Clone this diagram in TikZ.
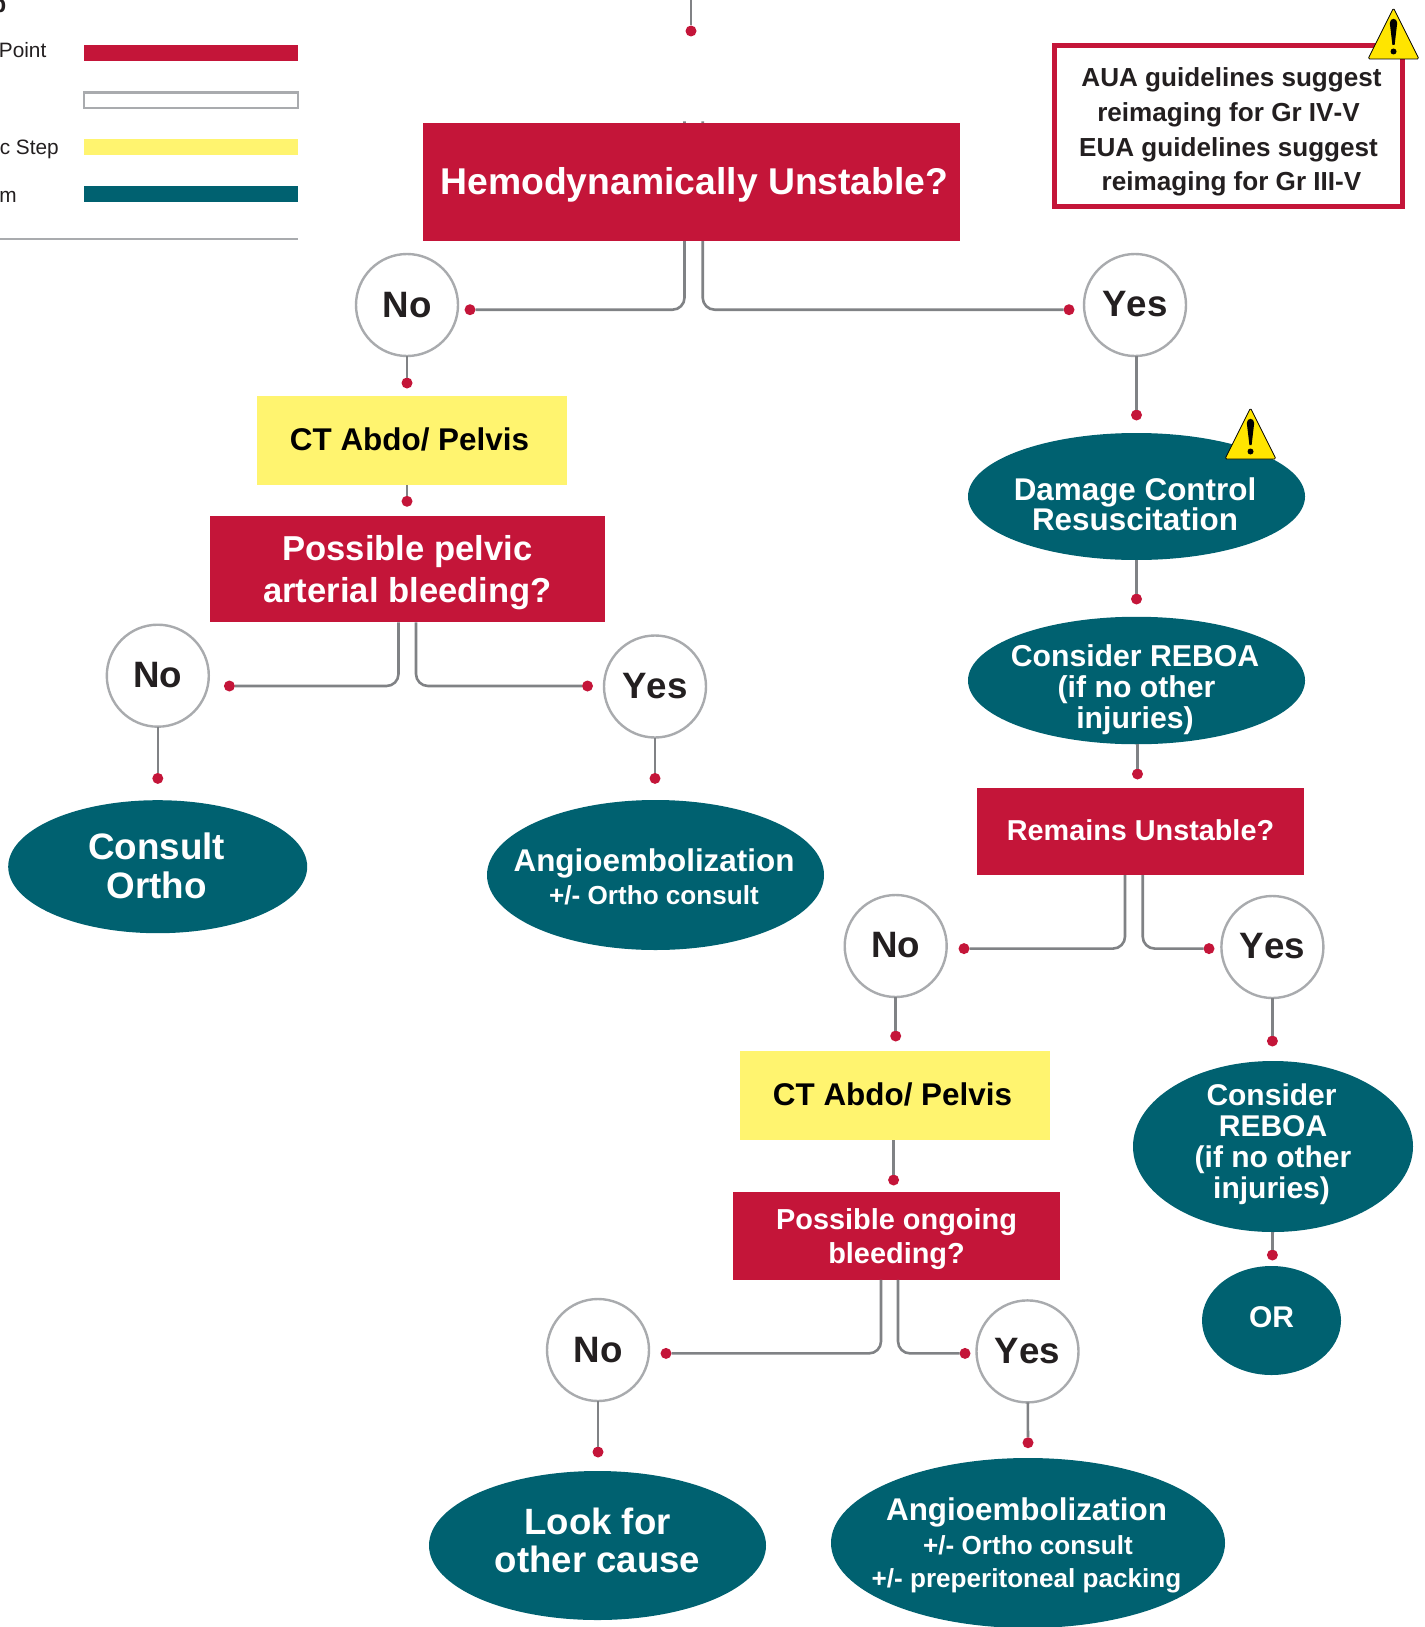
\documentclass[tikz,border=0pt]{standalone}
\usepackage{fontspec}
\setmainfont[Kerning=Off]{Liberation Sans}
\usetikzlibrary{shapes.geometric}
\definecolor{cred}{HTML}{C41539}
\definecolor{cteal}{HTML}{006170}
\definecolor{cyel}{HTML}{FFF46F}
\definecolor{cgrey}{HTML}{808285}
\definecolor{cring}{HTML}{A9ABAE}
\definecolor{cink}{HTML}{231F20}
\definecolor{cwarn}{HTML}{FFE500}
\newcommand{\fs}[2]{\fontsize{#1}{#2}\selectfont\bfseries}
% move a node's text down / up inside its shape by half of the given length
\newcommand{\pushdown}[2]{\setbox0\hbox{#2}\rule{0pt}{\dimexpr\ht0+#1\relax}#2}
\newcommand{\pushup}[2]{\setbox0\hbox{#2}\rule[-\dimexpr\dp0+#1\relax]{0pt}{0pt}#2}
\newcommand{\warnsign}[2]{%
  \begin{scope}[shift={(#1,#2)}]
    \draw[fill=cwarn,draw=black,line width=0.8pt,line join=round,rounded corners=1.5pt] (0,51) -- (25.5,0) -- (51,51) -- cycle;
    \fill[black] (21.8,15) .. controls (21.8,9.5) and (29.2,9.5) .. (29.2,15) -- (26.6,37) -- (24.4,37) -- cycle;
    \fill[black] (25.5,43.5) circle (3pt);
  \end{scope}}
\tikzset{
  x=1pt,y=-1pt,
  conn/.style={draw=cgrey,line width=2.6pt},
  elbow/.style={conn,rounded corners=12pt},
  dotn/.style={circle,fill=cred,draw=none,minimum size=11pt,inner sep=0,outer sep=0},
  redbox/.style={rectangle,fill=cred,text=white,align=center,inner sep=0,outer sep=0},
  yelbox/.style={rectangle,fill=cyel,text=black,align=center,inner sep=0,outer sep=0},
  oval/.style={ellipse,fill=cteal,text=white,align=center,inner xsep=-90pt,inner ysep=-40pt,outer sep=0},
  ring/.style={circle,fill=white,draw=cring,line width=2.4pt,minimum size=102pt,inner sep=0,outer sep=0,text=cink,font=\fs{36.7}{40}},
  legbar/.style={rectangle,minimum width=214pt,minimum height=16pt,inner sep=0,outer sep=0,anchor=north west},
  legtxt/.style={anchor=base east,inner sep=0,text=cink,font=\fontsize{20.8}{24}\selectfont},
}
\begin{document}
\begin{tikzpicture}
\useasboundingbox (0,0) rectangle (1424,1627);
\fill[white] (0,0) rectangle (1424,1627);

% legend
\node[anchor=base east,inner sep=0,text=cink,font=\fs{24}{28}] (legtitle) at (6.5,13) {p};
\node[legtxt] (leg1) at (46.5,58) {Point};
\node[legtxt] (leg3) at (59,154) {c Step};
\node[legtxt] (leg4) at (17,202.7) {m};
\node[legbar,fill=cred] (bar1) at (84,45) {};
\node[legbar,fill=white,draw=cring,line width=2.5pt,minimum height=15.5pt] (bar2) at (84,92.5) {};
\node[legbar,fill=cyel] (bar3) at (84,139) {};
\node[legbar,fill=cteal] (bar4) at (84,186) {};
\coordinate (ruleL) at (0,239);
\coordinate (ruleR) at (298,239);
\draw[draw=cring,line width=1.2pt] (ruleL) -- (ruleR);

% top stub
\coordinate (topin) at (691,-2);
\node[dotn] (dtop) at (691,31) {};
\draw[conn] (topin) -- (dtop);

% top decision
\node[dotn] (d1l) at (470,309.7) {};
\node[dotn] (d1r) at (1069,309.7) {};
\coordinate (t1l) at (684.5,121.5);
\coordinate (t1r) at (702.7,121.5);
\draw[elbow] (t1l) |- (d1l);
\draw[elbow] (t1r) |- (d1r);
\node[redbox,minimum width=537pt,minimum height=118pt,font=\fs{37.3}{42}] (main) at (691.5,182) {\hspace*{6pt}\pushdown{6pt}{Hemodynamically Unstable?}};

\node[ring] (no1) at (407,305) {No};
\node[ring] (yes1) at (1135,305) {\pushup{1.5pt}{Yes}};

% left branch
\node[dotn] (d2) at (407,383) {};
\draw[conn] (no1) -- (d2);
\node[yelbox,minimum width=310pt,minimum height=88.5pt,font=\fs{31.4}{35}] (ct1) at (412,440.7) {\pushup{2pt}{CT Abdo/ Pelvis}\hspace*{5pt}};
\node[dotn] (d3) at (407,501.3) {};
\draw[conn] (ct1.south -| d3) -- (d3);
\node[redbox,minimum width=395pt,minimum height=106.5pt,font=\fs{34.6}{41.5}] (q2) at (407.5,569.2) {\pushdown{7pt}{Possible pelvic}\\arterial bleeding?};
\node[dotn] (d4l) at (229.4,686) {};
\node[dotn] (d4r) at (587.5,686) {};
\draw[elbow] ([xshift=-9pt]q2.south) |- (d4l);
\draw[elbow] ([xshift=8.5pt]q2.south) |- (d4r);
\node[ring] (no2) at (157.8,675.7) {\pushup{1.5pt}{No}};
\node[ring] (yes2) at (655,686.5) {Yes};
\node[dotn] (d5l) at (157.8,778.4) {};
\node[dotn] (d5r) at (655,778.4) {};
\draw[conn] (no2) -- (d5l);
\draw[conn] (yes2) -- (d5r);
\node[oval,minimum width=299pt,minimum height=133pt,font=\fs{36.8}{38.4}] (ortho) at (157.7,866.7) {Consult\hspace*{2pt}\\\pushup{2pt}{Ortho}\hspace*{2pt}};
\node[oval,minimum width=337pt,minimum height=150pt,font=\fs{26.1}{33.2}] (angio1) at (655.5,875) {\pushdown{3pt}{\fs{31.4}{33.2}Angioembolization}\hspace*{3pt}\\+/- Ortho consult\hspace*{3pt}};

% right branch
\node[dotn] (d6) at (1136.5,415) {};
\draw[conn] (yes1.south -| d6) -- (d6);
\node[oval,minimum width=337pt,minimum height=127pt,font=\fs{31.4}{28.4}] (dcr) at (1136.5,496.5) {\pushdown{15pt}{Damage Control}\hspace*{3pt}\\Resuscitation\hspace*{3pt}};
\warnsign{1225}{408}
\node[dotn] (d7) at (1136.5,599) {};
\draw[conn] (dcr) -- (d7);
\node[oval,minimum width=337pt,minimum height=127.5pt,font=\fs{30.2}{31}] (reboa1) at (1136.5,680.5) {\pushdown{18.5pt}{Consider REBOA}\hspace*{3pt}\\(if no other\hspace*{3pt}\\injuries)\hspace*{3pt}};
\node[dotn] (d8) at (1137.5,774) {};
\draw[conn] (reboa1.south -| d8) -- (d8);
\node[redbox,minimum width=327pt,minimum height=87pt,font=\fs{28.8}{33}] (q3) at (1140.5,831.5) {\pushup{2pt}{Remains Unstable?}};
\node[dotn] (d9l) at (964,948.6) {};
\node[dotn] (d9r) at (1209,948.6) {};
\draw[elbow] ([xshift=-15.5pt]q3.south) |- (d9l);
\draw[elbow] ([xshift=2.2pt]q3.south) |- (d9r);
\node[ring] (no3) at (895.7,946) {\pushup{1.5pt}{No}};
\node[ring] (yes3) at (1272.4,947) {\pushup{1.5pt}{Yes}};
\node[dotn] (d10l) at (895.7,1036) {};
\node[dotn] (d10r) at (1272.4,1041) {};
\draw[conn] (no3) -- (d10l);
\draw[conn] (yes3) -- (d10r);
\node[yelbox,minimum width=310pt,minimum height=89pt,font=\fs{31.4}{35}] (ct2) at (895,1095.5) {\pushup{3pt}{CT Abdo/ Pelvis}\hspace*{5pt}};
\node[dotn] (d11) at (893.6,1180) {};
\draw[conn] (ct2.south -| d11) -- (d11);
\node[redbox,minimum width=327pt,minimum height=87.5pt,font=\fs{28.9}{34}] (q4) at (896.5,1236.2) {\pushdown{6pt}{Possible ongoing}\\bleeding?};
\node[dotn] (d12l) at (666,1353.4) {};
\node[dotn] (d12r) at (965,1353.4) {};
\draw[elbow] ([xshift=-15.5pt]q4.south) |- (d12l);
\draw[elbow] ([xshift=1.5pt]q4.south) |- (d12r);
\node[ring] (no4) at (598,1350) {No};
\node[ring] (yes4) at (1027.5,1351.4) {Yes};
\node[dotn] (d13l) at (598,1452) {};
\node[dotn] (d13r) at (1028,1442.7) {};
\draw[conn] (no4) -- (d13l);
\draw[conn] (yes4) -- (d13r);
\node[oval,minimum width=337pt,minimum height=149pt,font=\fs{36.6}{37.5}] (look) at (597.5,1545.5) {Look for\\\pushup{10.4pt}{other cause}};
\node[oval,minimum width=394pt,minimum height=170pt,font=\fs{26.1}{33.2}] (angio2) at (1028,1543) {\pushdown{5pt}{\fs{31.4}{33.2}Angioembolization}\hspace*{3pt}\\+/- Ortho consult\hspace*{3pt}\\+/- preperitoneal packing\hspace*{3pt}};

% far right
\node[oval,minimum width=280pt,minimum height=171pt,font=\fs{30}{31}] (reboa2) at (1273,1146.5) {Consider\hspace*{3pt}\\REBOA\hspace*{4pt}\\(if no other\hspace*{4pt}\\\pushup{4pt}{injuries)}\hspace*{3pt}};
\node[dotn] (d14) at (1272.4,1255) {};
\draw[conn] (reboa2.south -| d14) -- (d14);
\node[oval,minimum width=139pt,minimum height=109pt,font=\fs{30}{34}] (orn) at (1271.5,1320.5) {\pushup{6pt}{OR}};

% note
\node[rectangle,draw=cred,line width=5.3pt,fill=white,minimum width=348pt,minimum height=161pt,inner sep=0,align=center,text=cink,font=\fs{26.1}{34.7}] (note) at (1228.5,126) {\pushdown{12.5pt}{AUA guidelines suggest}\hspace*{-6pt}\\reimaging for Gr IV-V\hspace*{-6pt}\\EUA guidelines suggest\hspace*{-6pt}\\reimaging for Gr III-V\hspace*{-6pt}};
\warnsign{1368}{8}
\end{tikzpicture}
\end{document}
